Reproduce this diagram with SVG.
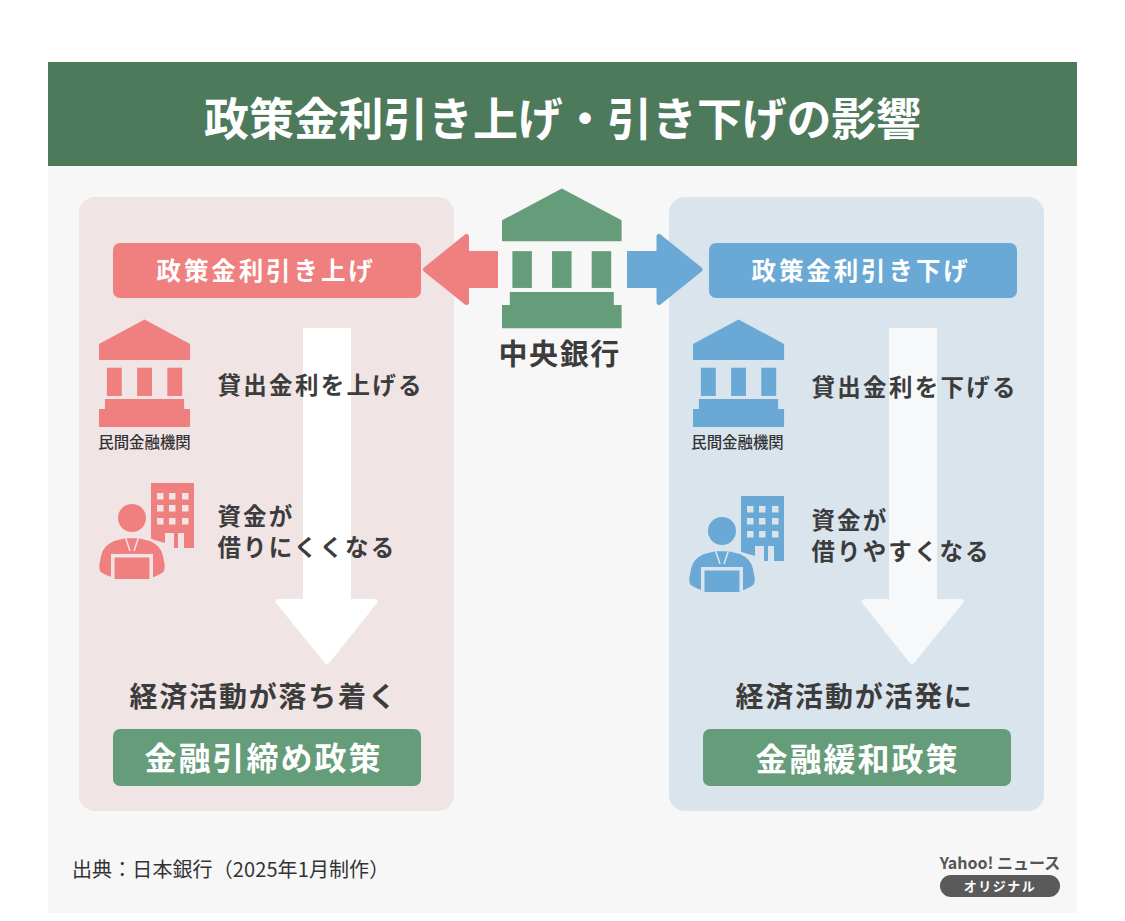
<svg xmlns="http://www.w3.org/2000/svg" width="1125" height="921" viewBox="0 0 1125 921">
<style>
text{font-family:"Noto Sans CJK JP","Noto Sans",sans-serif;font-weight:700;fill:#3c3c3c}
.p{fill:#f08080;stroke:#f08080}.b{fill:#6aa9d6;stroke:#6aa9d6}.g{fill:#659c79}
.p,.b{stroke-width:0}
.head{stroke-width:5;stroke-linejoin:round}
.m{font-size:23.500px;letter-spacing:2.300px}
.t{font-size:23.500px;letter-spacing:2.100px}
.s{font-size:15.400px;font-weight:500;fill:#333}
.k{fill:var(--bg);stroke:none}
.halo{stroke:var(--bg);stroke-width:2.500}
.col{stroke:var(--bg);stroke-width:1.500;fill:none}
</style>
<defs>
<g id="bank">
<path d="M46 0L92 24.500V40.500H0V24.500Z"/>
<rect x="8" y="48.200" width="15" height="28.300"/><rect x="38.500" y="48.200" width="15" height="28.300"/><rect x="69" y="48.200" width="15" height="28.300"/>
<path d="M6 79.600H86V89.600H92V107.500H0V89.600H6Z"/>
</g>
<g id="firm">
<path d="M52 0H95V65H85V50H79V65H75V50H66V60L52 56Z"/>
<rect class="k" x="58" y="10" width="6.500" height="6.500"/><rect class="k" x="70" y="10" width="6.500" height="6.500"/><rect class="k" x="83" y="10" width="6.500" height="6.500"/>
<rect class="k" x="58" y="22" width="6.500" height="6.500"/><rect class="k" x="70" y="22" width="6.500" height="6.500"/><rect class="k" x="83" y="22" width="6.500" height="6.500"/>
<rect class="k" x="58" y="35" width="6.500" height="6.500"/><rect class="k" x="70" y="35" width="6.500" height="6.500"/><rect class="k" x="83" y="35" width="6.500" height="6.500"/>
<circle cx="33" cy="35" r="16" class="k"/>
<circle cx="33" cy="35" r="14"/>
<path class="halo" d="M26 54L14 57Q3 62 1 72L-1 82Q-1 88 1 90Q7 94 14 96H52Q60 94 65 90Q67 88 67 82L65 72Q63 62 52 57L40 54Z"/>
<path class="col" d="M26 53L31 68M40 53L35 68"/>
<path class="k" d="M12 71H54V96H12Z"/>
<path d="M15.500 74.500H50.500V96H15.500Z"/>
</g>
</defs>
<rect width="1125" height="921" fill="#fff"/>
<rect x="48" y="166" width="1029" height="747" fill="#f7f7f7"/>
<g id="title"><rect x="48" y="62" width="1029" height="104" fill="#4e7a5c"/>
<text x="562.500" y="136" text-anchor="middle" font-size="45" style="fill:#fff" letter-spacing="-0.200">政策金利引き上げ・引き下げの影響</text></g>
<rect id="panel-left" x="79" y="197" width="375" height="614" rx="16" fill="#f0e4e5"/>
<rect id="panel-right" x="669" y="197" width="375" height="614" rx="16" fill="#dae4ed"/>
<g id="connectors">
<g class="p"><rect x="465" y="251" width="33" height="37"/><path class="head" d="M425.500 269.500L466.500 236.500V302.500Z"/></g>
<g class="b"><rect x="627" y="251" width="33" height="37"/><path class="head" d="M700 269.500L659 236.500V302.500Z"/></g>
<path d="M303 328H351V599H375Q379 600 377 603L330 662Q327 666 324 662L276 603Q274 600 278 599H303Z" fill="#fff"/>
<path d="M889 328H937V599H961Q965 600 963 603L915 662Q912 666 909 662L862 603Q860 600 864 599H889Z" fill="#f6f8fa"/>
</g>
<g id="central-bank" class="g"><use href="#bank" transform="translate(502 188.500) scale(1.300)"/>
<text x="498.500" y="365" font-size="29" letter-spacing="1.600">中央銀行</text></g>
<g id="rate-up"><rect x="113" y="243" width="308" height="55" rx="7" class="p"/><text x="156.500" y="280" font-size="24.500" letter-spacing="2.900" style="fill:#fff">政策金利引き上げ</text></g>
<g id="rate-down"><rect x="709" y="243" width="308" height="55" rx="7" class="b"/><text x="751.500" y="280" font-size="24.500" letter-spacing="2.900" style="fill:#fff">政策金利引き下げ</text></g>
<g id="bank-left" class="p"><use href="#bank" transform="translate(99 319.500) scale(.99 1)"/><text x="144.500" y="448" text-anchor="middle" class="s">民間金融機関</text></g>
<g id="bank-right" class="b"><use href="#bank" transform="translate(693 319.500) scale(.99 1)"/><text x="737.500" y="448" text-anchor="middle" class="s">民間金融機関</text></g>
<g id="lend-up"><text x="217.500" y="394" class="m">貸出金利を上げる</text></g>
<g id="lend-down"><text x="811.500" y="396" class="m">貸出金利を下げる</text></g>
<g id="firm-left" class="p" style="--bg:#f0e4e5"><use href="#firm" transform="translate(99 483)"/></g>
<g id="firm-right" class="b" style="--bg:#dae4ed"><use href="#firm" transform="translate(689 496)"/></g>
<g id="hard-borrow"><text x="217.500" y="525" class="t">資金が</text><text x="217.500" y="556" class="t">借りにくくなる</text></g>
<g id="easy-borrow"><text x="811.500" y="529" class="t">資金が</text><text x="811.500" y="560" class="t">借りやすくなる</text></g>
<g id="calm"><text x="129.500" y="707" font-size="28" letter-spacing="1.800">経済活動が落ち着く</text></g>
<g id="active"><text x="735.500" y="707" font-size="28" letter-spacing="1.800">経済活動が活発に</text></g>
<g id="tight"><rect x="113" y="729" width="308" height="57" rx="7" class="g"/><text x="144.500" y="770" font-size="32" letter-spacing="2" style="fill:#fff">金融引締め政策</text></g>
<g id="ease"><rect x="703" y="729" width="308" height="57" rx="7" class="g"/><text x="755.500" y="771" font-size="32" letter-spacing="2" style="fill:#fff">金融緩和政策</text></g>
<text id="source" x="72" y="877" font-size="20" letter-spacing=".1" style="font-weight:400;fill:#333">出典：日本銀行（2025年1月制作）</text>
<g id="yahoo"><text x="1000" y="869" text-anchor="middle" font-size="16" style="fill:#555">Yahoo! ニュース</text>
<rect x="940" y="875" width="120" height="22" rx="11" fill="#5a5a5a"/>
<text x="1000" y="891" text-anchor="middle" font-size="13" letter-spacing="1.500" style="fill:#fff">オリジナル</text></g>
</svg>
